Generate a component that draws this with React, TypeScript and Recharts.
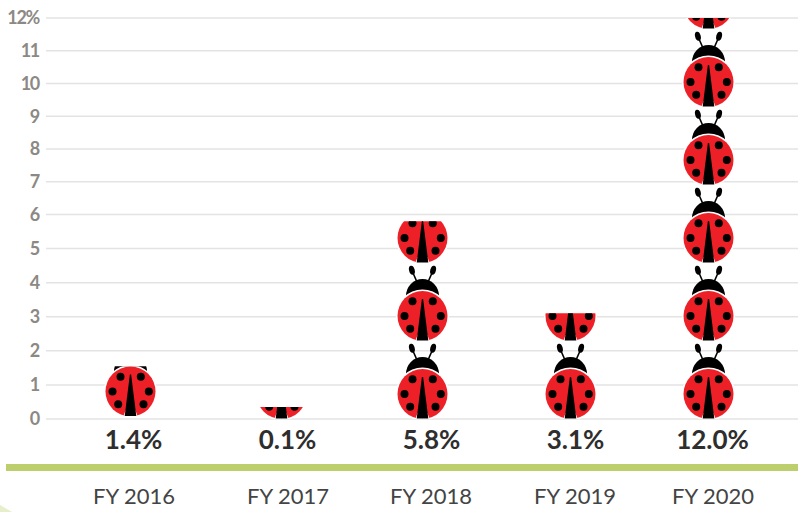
import { BarChart, Bar, XAxis, YAxis, CartesianGrid, LabelList } from 'recharts'

const years = ['FY 2016', 'FY 2017', 'FY 2018', 'FY 2019', 'FY 2020']
// height of the ladybug column as drawn (the two small ones are taller than their printed rate)
const columnHeights = [1.55, 0.35, 5.8, 3.1, 12]
const rateLabels = ['1.4%', '0.1%', '5.8%', '3.1%', '12.0%']
const yTicks = [0, 1, 2, 3, 4, 5, 6, 7, 8, 9, 10, 11, 12]

// the source artwork is hand placed, so columns sit a little off the even bands
const bugNudge = [-3, 3, -1, 2, -5]
const bugLift = [2.5, 0, 0, 0, 0]
const rateNudge = [0, 9, 8, 7, -1]
const yearNudge = [1, 10, 8, 7, 0]

const TILE = 78
const BODY_R = 25
// the printed axis is not quite even: rows above 6 are tighter than rows below it
const AXIS_BEND_VALUE = 6
const AXIS_BEND_SHARE = 0.51

const data = years.map((year, i) => ({ year, height: columnHeights[i], rate: rateLabels[i] }))

const spots = [
    [-10, -14.7],
    [10.3, -14.7],
    [-18, 0],
    [18.3, 0],
    [-12.3, 12.7],
    [13, 12.7]
]

function bentScale() {
    let dom = [0, 12]
    let ran = [0, 1]
    const scale: any = (v: number) => {
        const [d0, d1] = dom
        const share =
            v <= AXIS_BEND_VALUE
                ? ((v - d0) / (AXIS_BEND_VALUE - d0)) * AXIS_BEND_SHARE
                : AXIS_BEND_SHARE + ((v - AXIS_BEND_VALUE) / (d1 - AXIS_BEND_VALUE)) * (1 - AXIS_BEND_SHARE)
        return ran[0] + share * (ran[1] - ran[0])
    }
    scale.domain = (d?: number[]) => {
        if (!d) return dom
        dom = d.map(Number)
        return scale
    }
    scale.range = (r?: number[]) => {
        if (!r) return ran
        ran = r
        return scale
    }
    scale.ticks = () => yTicks
    scale.copy = () => bentScale().domain(dom).range(ran)
    return scale
}

function Ladybug({ cy }: { cy: number }) {
    return (
        <g transform={`translate(0 ${cy})`}>
            {[-1, 1].map((s) => (
                <g key={s} transform={`scale(${s} 1)`}>
                    <line x1={5.5} y1={-34} x2={9.5} y2={-43} stroke="#000" strokeWidth={1.6} />
                    <ellipse cx={10.6} cy={-45.7} rx={2.8} ry={4.6} fill="#000" transform="rotate(15 10.6 -45.7)" />
                </g>
            ))}
            <path d="M-16.5 -20 A16.5 17 0 0 1 16.5 -20 Z" fill="#000" />
            <circle r={BODY_R + 1.6} fill="#fff" />
            <circle r={BODY_R} fill="#ED2027" />
            <path d="M-7.5 26 L-5 19 L5 19 L7.5 26 Z" fill="#fff" />
            <path d="M-5.8 24.4 L-0.6 -17 L0.6 -17 L5.8 24.4 Z" fill="#000" />
            {spots.map(([x, y], i) => (
                <circle key={i} cx={x} cy={y} r={4} fill="#000" />
            ))}
        </g>
    )
}

function BugColumn(props: any) {
    const { x, y, width, height, index } = props
    const cx = x + width / 2 + bugNudge[index]
    const bottom = y + height - bugLift[index]
    const count = Math.ceil(height / TILE)
    const clipId = `bug-clip-${index}`
    return (
        <g>
            <clipPath id={clipId}>
                <rect x={cx - 40} y={y} width={80} height={height} />
            </clipPath>
            <g clipPath={`url(#${clipId})`}>
                <g transform={`translate(${cx} 0)`}>
                    {Array.from({ length: count }).map((_, i) => (
                        <Ladybug key={i} cy={bottom - BODY_R - i * TILE} />
                    ))}
                </g>
            </g>
        </g>
    )
}

function RateLabel(props: any) {
    const { x, y, width, height, value, index } = props
    return (
        <text
            x={x + width / 2 + rateNudge[index]}
            y={y + height + 30}
            textAnchor="middle"
            fontFamily="Lato, sans-serif"
            fontWeight={700}
            fontSize={26}
            fill="#2f2e2e"
        >
            {value}
        </text>
    )
}

function YearTick(props: any) {
    const { x, y, payload, index } = props
    return (
        <text
            x={x + yearNudge[index]}
            y={y + 77}
            textAnchor="middle"
            fontFamily="Lato, sans-serif"
            fontSize={22}
            fill="#444"
        >
            {payload.value}
        </text>
    )
}

export default function App() {
    return (
        <div style={{ position: 'absolute', left: 0, top: 0, width: 798, height: 512, overflow: 'hidden', background: '#fff' }}>
            <svg width={50} height={30} style={{ position: 'absolute', left: 0, bottom: 0 }}>
                <path d="M0 23 L12 30 L0 30 Z" fill="#e6eecb" />
            </svg>
            <div style={{ position: 'absolute', left: 6, top: 464, width: 792, height: 7, background: '#bdcf6c' }} />
            <BarChart
                width={798}
                height={512}
                data={data}
                margin={{ top: 18, right: 0, bottom: 0, left: 0 }}
                style={{ position: 'absolute', left: 0, top: 0 }}
            >
                <CartesianGrid vertical={false} stroke="#e3e3e3" strokeWidth={1.5} />
                <XAxis
                    dataKey="year"
                    height={93}
                    axisLine={false}
                    tickLine={false}
                    interval={0}
                    padding={{ left: 14.5, right: 12.5 }}
                    tick={<YearTick />}
                />
                <YAxis
                    width={46}
                    scale={bentScale()}
                    domain={[0, 12]}
                    ticks={yTicks}
                    interval={0}
                    axisLine={false}
                    tickLine={false}
                    tickFormatter={(v: number) => (v === 12 ? '12%' : String(v))}
                    tick={{ fill: '#8c8984', fontSize: 18, fontWeight: 700, fontFamily: 'Lato, sans-serif', letterSpacing: -1.3 }}
                    tickMargin={1}
                />
                <Bar dataKey="height" barSize={60} isAnimationActive={false} shape={<BugColumn />}>
                    <LabelList dataKey="rate" content={<RateLabel />} />
                </Bar>
            </BarChart>
        </div>
    )
}
